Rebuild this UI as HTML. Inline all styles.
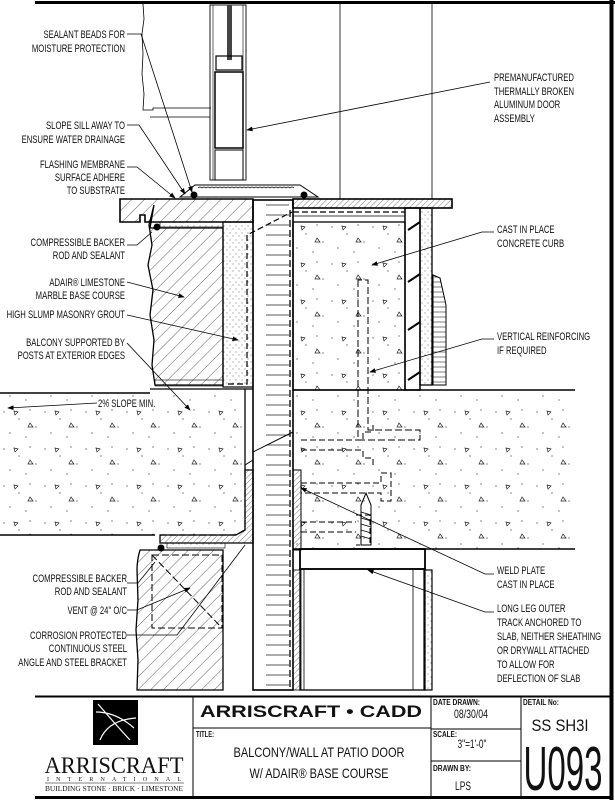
<!DOCTYPE html>
<html><head><meta charset="utf-8"><style>
html,body{margin:0;padding:0;background:#fff;}
svg{display:block;}
text{font-family:"Liberation Sans",sans-serif;fill:#111;}
.l text{font-size:11px;text-anchor:end;}
.r text{font-size:11px;}
</style></head><body>
<svg width="615" height="800" viewBox="0 0 615 800" xmlns="http://www.w3.org/2000/svg">
<defs>
<pattern id="h" width="9" height="9" patternUnits="userSpaceOnUse" patternTransform="rotate(45)"><line x1="0" y1="0" x2="0" y2="9" stroke="#222" stroke-width="0.7"/></pattern>
<pattern id="hf" width="4" height="4" patternUnits="userSpaceOnUse" patternTransform="rotate(45)"><line x1="0" y1="0" x2="0" y2="4" stroke="#222" stroke-width="0.6"/></pattern>
<pattern id="d" width="41" height="37" patternUnits="userSpaceOnUse">
<circle cx="4" cy="5" r="0.6" fill="#333"/><circle cx="19" cy="12" r="0.6" fill="#333"/><circle cx="30" cy="3" r="0.6" fill="#333"/><circle cx="10" cy="26" r="0.6" fill="#333"/><circle cx="26" cy="30" r="0.6" fill="#333"/><circle cx="36" cy="20" r="0.6" fill="#333"/>
<path d="M14 4 l4 1 l-3 3 z" fill="none" stroke="#222" stroke-width="0.7"/>
<path d="M30 16 l3 4 l-5 0 z" fill="none" stroke="#222" stroke-width="0.7"/>
</pattern>
<pattern id="dd" width="6" height="7" patternUnits="userSpaceOnUse"><circle cx="2" cy="2" r="0.5" fill="#444"/><circle cx="5" cy="5" r="0.5" fill="#444"/></pattern>
<pattern id="br" x="253" y="200" width="40" height="10" patternUnits="userSpaceOnUse"><line x1="13" y1="5" x2="36" y2="5" stroke="#222" stroke-width="0.8"/></pattern>
<pattern id="sd" x="433" y="0" width="14" height="5" patternUnits="userSpaceOnUse"><line x1="0" y1="2" x2="14" y2="2" stroke="#222" stroke-width="0.6"/></pattern>
<marker id="a" markerWidth="8" markerHeight="6" refX="7" refY="3" orient="auto"><path d="M0 0 L8 3 L0 6 z" fill="#000"/></marker>
</defs>
<g stroke="#000" fill="none">
<line x1="35" y1="2.5" x2="615" y2="2.5" stroke-width="3"/>
<line x1="611.5" y1="0" x2="611.5" y2="800" stroke-width="4"/>
<path d="M143 4 l1 15 l-2 15 l1 20 l-1 20 l2 20 l-1 16 h10 v-2 h58" stroke-width="0.8"/>
<line x1="150" y1="117" x2="210" y2="117" stroke-width="0.8"/>
<line x1="340" y1="4" x2="340" y2="199" stroke-width="0.8"/>
<line x1="432" y1="4" x2="432" y2="199" stroke-width="0.8"/>
<rect x="210" y="5" width="36" height="175" stroke-width="0.9"/>
<line x1="213" y1="5" x2="213" y2="180" stroke-width="0.6"/>
<line x1="243" y1="5" x2="243" y2="180" stroke-width="0.6"/>
<rect x="227" y="5" width="5" height="55" fill="#444" stroke="none"/>
<rect x="216" y="56" width="26" height="14" stroke-width="1.2"/>
<rect x="215" y="72" width="28" height="76" stroke-width="1.5"/>
<rect x="215" y="150" width="28" height="30" stroke-width="1"/>
<path d="M180 197 L195 185 L300 185 L318 197 Z" stroke-width="1"/>
<path d="M198 188 q2 -2 4 0 q2 -2 4 0 q2 -2 4 0 q2 -2 4 0 q2 -2 4 0 q2 -2 4 0 q2 -2 4 0 q2 -2 4 0 q2 -2 4 0 q2 -2 4 0 q2 -2 4 0 q2 -2 4 0 q2 -2 4 0 q2 -2 4 0 q2 -2 4 0 q2 -2 4 0 q2 -2 4 0 q2 -2 4 0 q2 -2 4 0 q2 -2 4 0 q2 -2 4 0 q2 -2 4 0 q2 -2 4 0 q2 -2 4 0" stroke-width="0.7"/>
<circle cx="194" cy="195" r="3" fill="#000"/><circle cx="304" cy="195" r="3" fill="#000"/>
<path d="M120 199 H253 V222 H145 V215 H140 V222 H120 Z" fill="url(#h)" stroke-width="1.6"/>
<rect x="160" y="222" width="63" height="5" fill="url(#dd)" stroke-width="0.6"/>
<circle cx="157" cy="227" r="3" fill="#000"/>
<rect x="293" y="199" width="159" height="9" fill="url(#hf)" stroke-width="1.6"/>
<path d="M150 228 H223 V385 H155 l-3 -20 l2 -25 l-4 -25 l3 -25 l-5 -25 l4 -20 l-3 -20 l5 -20 z" fill="url(#h)" stroke-width="1.3"/>
<rect x="155" y="380" width="68" height="6" stroke-width="0.6"/>
<rect x="223" y="222" width="30" height="165" fill="url(#dd)" stroke-width="1.2"/>
<path d="M228 384 H247 V235 L292 212" stroke-dasharray="6 3" stroke-width="1.2"/>
<rect x="253" y="200" width="40" height="490" fill="url(#br)" stroke-width="1.6"/>
<line x1="290" y1="210" x2="290" y2="690" stroke-dasharray="7 3" stroke-width="1.3"/>
<rect x="293" y="222" width="112" height="168" fill="url(#d)" stroke-width="1.3"/>
<path d="M293 212 H405" stroke-dasharray="6 3" stroke-width="1.2"/>
<line x1="293" y1="216" x2="405" y2="216" stroke-width="0.8"/>
<rect x="405" y="208" width="15" height="182" stroke-width="1.5"/>
<path d="M408 230 l12 -8 M408 282 l12 -8 M408 330 l12 -8 M408 380 l12 -8" stroke-width="2"/>
<rect x="420" y="208" width="12" height="177" fill="url(#dd)" stroke-width="1.3"/>
<path d="M433 275 L440 278 L446 305 L446 385 L433 385 Z" fill="url(#sd)" stroke-width="1"/>
<path d="M358 280 V440 H420 V430 H368 V280 Z" stroke-dasharray="7 3" stroke-width="1"/>
<rect x="0" y="392" width="245" height="143" fill="url(#d)" stroke="none"/>
<rect x="293" y="390" width="282" height="159" fill="url(#d)" stroke="none"/>
<line x1="0" y1="393" x2="150" y2="393" stroke-width="1.5"/>
<line x1="150" y1="389" x2="253" y2="389" stroke-width="1.3"/>
<line x1="293" y1="390" x2="575" y2="390" stroke-width="1.5"/>
<line x1="293" y1="549" x2="575" y2="549" stroke-width="1.5"/>
<line x1="0" y1="535" x2="155" y2="535" stroke-width="1.5"/>
<line x1="245" y1="389" x2="245" y2="470" stroke-width="1.3"/>
<path d="M245 465 L253 460 M253 452 L293 432" stroke-width="1"/>
<path d="M245 470 V530 L236 535 H160" stroke-dasharray="7 3" stroke-width="1.2"/>
<path d="M160 535 H236 L245 530 V470 H253 V543 H160 Z" fill="url(#hf)" stroke-width="1.3"/>
<rect x="167" y="543" width="58" height="5" fill="url(#dd)" stroke-width="0.6"/>
<circle cx="161" cy="548" r="3" fill="#000"/>
<path d="M140 550 H223 V690 H137 l1 -30 l-2 -30 l2 -30 l-1 -30 q0 -10 3 -20 z" fill="url(#h)" stroke-width="1.3"/>
<rect x="152" y="555" width="70" height="73" stroke-dasharray="7 3" stroke-width="1"/>
<line x1="152" y1="555" x2="222" y2="628" stroke-dasharray="7 3" stroke-width="1"/>
<rect x="293" y="470" width="8" height="80" fill="url(#hf)" stroke-width="1"/>
<path d="M301 440 h62 v-8 h10 v-10 M301 450 h62 v8 h10 v10" stroke-dasharray="6 3" stroke-width="1"/>
<path d="M301 483 h80 v-10 h10 v28 h-10 v-8 h-80" stroke-dasharray="6 3" stroke-width="1"/>
<path d="M301 522 h55 M301 532 h55 M356 515 h14 v30 h-14" stroke-dasharray="6 3" stroke-width="1"/>
<path d="M361 505 l5 -12 l5 12 v40 h-10 z" stroke-width="1"/>
<path d="M361 512 l10 3 M361 518 l10 3 M361 524 l10 3 M361 530 l10 3 M361 536 l10 3" stroke-width="0.7"/>
<rect x="300" y="549" width="125" height="20" stroke-width="1.8"/>
<rect x="300" y="569" width="125" height="121" stroke-width="1.3"/>
<line x1="304" y1="569" x2="304" y2="690" stroke-width="0.8"/>
<line x1="413" y1="569" x2="413" y2="690" stroke-width="0.8"/>
<rect x="424" y="570" width="8" height="120" fill="url(#dd)" stroke-width="1.2"/>
<rect x="293" y="570" width="8" height="120" fill="url(#hf)" stroke-width="0.8"/>
<line x1="35" y1="696.5" x2="612" y2="696.5" stroke-width="2"/>
<line x1="35" y1="797.5" x2="612" y2="797.5" stroke-width="3"/>
<line x1="193" y1="696" x2="193" y2="797" stroke-width="1"/>
<line x1="431" y1="696" x2="431" y2="797" stroke-width="1"/>
<line x1="521" y1="696" x2="521" y2="797" stroke-width="1"/>
<line x1="193" y1="728" x2="431" y2="728" stroke-width="1"/>
<line x1="431" y1="729" x2="521" y2="729" stroke-width="1"/>
<line x1="431" y1="761" x2="521" y2="761" stroke-width="1"/>
<g stroke-width="0.8">
<path d="M127 34 H141 L192 192" marker-end="url(#a)"/>
<path d="M127 125 H139 L185 194" marker-end="url(#a)"/>
<path d="M127 167 H137 L175 198" marker-end="url(#a)"/>
<path d="M127 245 H137 L152 232"/>
<path d="M127 282 L184 297" marker-end="url(#a)"/>
<path d="M127 315 L238 340" marker-end="url(#a)"/>
<path d="M127 343 L190 410" marker-end="url(#a)"/>
<path d="M97 403 L8 408" marker-end="url(#a)"/>
<path d="M490 82 L247 130" marker-end="url(#a)"/>
<path d="M494 232 H482 L372 265" marker-end="url(#a)"/>
<path d="M494 339 H482 L370 372" marker-end="url(#a)"/>
<path d="M494 574 H485 L301 488" marker-end="url(#a)"/>
<path d="M494 612 H485 L368 570" marker-end="url(#a)"/>
<path d="M127 583 H138 L155 562"/>
<path d="M127 610 H137 L190 588" marker-end="url(#a)"/>
<path d="M127 635 H177 L245 545"/>
</g>
</g>
<g class="l" transform="translate(125,0) scale(0.7,1)">
<text x="0" y="38">SEALANT BEADS FOR</text>
<text x="0" y="52">MOISTURE PROTECTION</text>
<text x="0" y="129">SLOPE SILL AWAY TO</text>
<text x="0" y="143">ENSURE WATER DRAINAGE</text>
<text x="0" y="168">FLASHING MEMBRANE</text>
<text x="0" y="181">SURFACE ADHERE</text>
<text x="0" y="194">TO SUBSTRATE</text>
<text x="0" y="246">COMPRESSIBLE BACKER</text>
<text x="0" y="259">ROD AND SEALANT</text>
<text x="0" y="286">ADAIR® LIMESTONE</text>
<text x="0" y="299">MARBLE BASE COURSE</text>
<text x="0" y="318">HIGH SLUMP MASONRY GROUT</text>
<text x="0" y="346">BALCONY SUPPORTED BY</text>
<text x="0" y="359">POSTS AT EXTERIOR EDGES</text>
</g>
<g class="l" transform="translate(127,0) scale(0.7,1)">
<text x="0" y="582">COMPRESSIBLE BACKER</text>
<text x="0" y="595">ROD AND SEALANT</text>
<text x="0" y="614">VENT @ 24" O/C</text>
<text x="0" y="639">CORROSION PROTECTED</text>
<text x="0" y="652">CONTINUOUS STEEL</text>
<text x="0" y="666">ANGLE AND STEEL BRACKET</text>
</g>
<g class="r" transform="translate(98,0) scale(0.7,1)"><text x="0" y="407">2% SLOPE MIN.</text></g>
<g class="r" transform="translate(494,0) scale(0.7,1)">
<text x="0" y="81">PREMANUFACTURED</text>
<text x="0" y="95">THERMALLY BROKEN</text>
<text x="0" y="108">ALUMINUM DOOR</text>
<text x="0" y="122">ASSEMBLY</text>
</g>
<g class="r" transform="translate(497,0) scale(0.7,1)">
<text x="0" y="233">CAST IN PLACE</text>
<text x="0" y="247">CONCRETE CURB</text>
<text x="0" y="340">VERTICAL REINFORCING</text>
<text x="0" y="354">IF REQUIRED</text>
<text x="0" y="574">WELD PLATE</text>
<text x="0" y="588">CAST IN PLACE</text>
<text x="0" y="612">LONG LEG OUTER</text>
<text x="0" y="626">TRACK ANCHORED TO</text>
<text x="0" y="640">SLAB, NEITHER SHEATHING</text>
<text x="0" y="654">OR DRYWALL ATTACHED</text>
<text x="0" y="668">TO ALLOW FOR</text>
<text x="0" y="682">DEFLECTION OF SLAB</text>
</g>
<rect x="93" y="700" width="45" height="45" fill="#000"/>
<path d="M96 712 Q116 712 134 728 M98 704 Q116 725 130 740 M136 718 Q108 720 100 740" stroke="#fff" stroke-width="1.2" fill="none"/>
<text x="114" y="773" text-anchor="middle" style="font-family:'Liberation Serif',serif;font-size:23px" textLength="139" lengthAdjust="spacingAndGlyphs">ARRISCRAFT</text>
<text x="114" y="781" text-anchor="middle" style="font-family:'Liberation Serif',serif;font-size:6px" textLength="134" lengthAdjust="spacing">INTERNATIONAL</text>
<line x1="45" y1="783" x2="184" y2="783" stroke="#000" stroke-width="0.6"/>
<text x="114" y="791" text-anchor="middle" style="font-family:'Liberation Serif',serif;font-size:7px" textLength="138" lengthAdjust="spacingAndGlyphs">BUILDING STONE · BRICK · LIMESTONE</text>
<text x="311" y="717" text-anchor="middle" style="font-weight:bold;font-size:17px" textLength="222" lengthAdjust="spacingAndGlyphs">ARRISCRAFT • CADD</text>
<text x="196" y="737" style="font-size:8px;font-weight:bold" textLength="18" lengthAdjust="spacingAndGlyphs">TITLE:</text>
<text x="319" y="757" text-anchor="middle" style="font-size:14px" textLength="171" lengthAdjust="spacingAndGlyphs">BALCONY/WALL AT PATIO DOOR</text>
<text x="319" y="778" text-anchor="middle" style="font-size:14px" textLength="139" lengthAdjust="spacingAndGlyphs">W/ ADAIR® BASE COURSE</text>
<text x="433" y="705" style="font-size:8px;font-weight:bold" textLength="47" lengthAdjust="spacingAndGlyphs">DATE DRAWN:</text>
<text x="471" y="718" text-anchor="middle" style="font-size:12px" textLength="34" lengthAdjust="spacingAndGlyphs">08/30/04</text>
<text x="433" y="737" style="font-size:8px;font-weight:bold" textLength="24" lengthAdjust="spacingAndGlyphs">SCALE:</text>
<text x="472" y="748" text-anchor="middle" style="font-size:12px" textLength="29" lengthAdjust="spacingAndGlyphs">3"=1'-0"</text>
<text x="433" y="771" style="font-size:8px;font-weight:bold" textLength="38" lengthAdjust="spacingAndGlyphs">DRAWN BY:</text>
<text x="463" y="790" text-anchor="middle" style="font-size:12px" textLength="16" lengthAdjust="spacingAndGlyphs">LPS</text>
<text x="523" y="705" style="font-size:8px;font-weight:bold" textLength="36" lengthAdjust="spacingAndGlyphs">DETAIL No:</text>
<text x="560" y="731" text-anchor="middle" style="font-size:17px" textLength="57" lengthAdjust="spacingAndGlyphs">SS SH3I</text>
<text x="563" y="790" text-anchor="middle" style="font-size:62px" textLength="79" lengthAdjust="spacingAndGlyphs">U093</text>
</svg>
</body></html>
